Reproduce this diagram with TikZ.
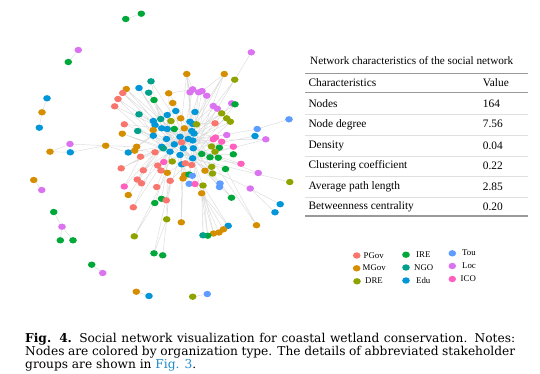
\documentclass[tikz,border=0pt]{standalone}
\usepackage{fontspec}
\setmainfont{Liberation Serif}
\newfontfamily\capfont{DejaVu Serif}
\usetikzlibrary{shapes.geometric,backgrounds}
\definecolor{cPGov}{HTML}{F8766D}
\definecolor{cMGov}{HTML}{D58E00}
\definecolor{cDRE}{HTML}{8FA300}
\definecolor{cIRE}{HTML}{00A83A}
\definecolor{cNGO}{HTML}{00A08A}
\definecolor{cEdu}{HTML}{0096D8}
\definecolor{cTou}{HTML}{5E9CFF}
\definecolor{cLoc}{HTML}{DB72F0}
\definecolor{cICO}{HTML}{FF5FBE}
\definecolor{figblue}{HTML}{1E8AC8}
\begin{document}
\begin{tikzpicture}[x=1pt,y=-1pt]
\tikzset{
    dot/.style={ellipse, minimum width=7.6pt, minimum height=6.4pt, inner sep=0pt, draw=none},
    pgov/.style={dot, fill=cPGov},
    mgov/.style={dot, fill=cMGov},
    dre/.style={dot, fill=cDRE},
    ire/.style={dot, fill=cIRE},
    ngo/.style={dot, fill=cNGO},
    edu/.style={dot, fill=cEdu},
    tou/.style={dot, fill=cTou},
    loc/.style={dot, fill=cLoc},
    ico/.style={dot, fill=cICO},
    edge/.style={gray!28, line width=0.45pt},
    cell/.style={anchor=west, inner sep=0pt, font=\fontsize{11.4}{13}\selectfont},
    key/.style={anchor=west, inner sep=0pt, font=\fontsize{8.8}{10}\selectfont},
    toprule/.style={gray!80, line width=1.1pt},
    midrule/.style={gray!25, line width=0.5pt}}
\def\tabL{305}
\def\tabR{528.3}

\useasboundingbox (0,0) rectangle (540,373);

% outer components
\node[ire] (v1) at (125.7,19) {};
\node[ire] (v2) at (141.3,13.7) {};
\node[loc] (v3) at (78.3,50) {};
\node[ire] (v4) at (68.3,62) {};
\node[edu] (v5) at (47,98.3) {};
\node[mgov] (v6) at (42,112.3) {};
\node[edu] (v7) at (39.3,127.7) {};
\node[loc] (v8) at (70,144) {};
\node[mgov] (v9) at (50,151.7) {};
\node[edu] (v10) at (70.3,152.3) {};
\node[mgov] (v11) at (105.7,145.7) {};
\node[mgov] (v12) at (33.7,180) {};
\node[loc] (v13) at (41.7,190) {};
\node[ire] (v14) at (53.7,212) {};
\node[loc] (v15) at (62,226.7) {};
\node[ire] (v16) at (60.3,240.3) {};
\node[ire] (v17) at (73,240.3) {};
\node[ire] (v18) at (91.7,264.7) {};
\node[loc] (v19) at (102.7,273) {};
\node[mgov] (v20) at (136.3,291.7) {};
\node[edu] (v21) at (149,296) {};
\node[dre] (v22) at (192.7,296.7) {};
\node[tou] (v23) at (207.3,294) {};

% main component, top
\node[mgov] (v24) at (126.3,89) {};
\node[pgov] (v25) at (122.7,93) {};
\node[pgov] (v26) at (118,99) {};
\node[pgov] (v27) at (114.7,106.3) {};
\node[edu] (v28) at (139,88) {};
\node[ngo] (v29) at (151,81.3) {};
\node[ngo] (v30) at (148.7,92.7) {};
\node[ire] (v31) at (154,100) {};
\node[mgov] (v32) at (168.7,93.3) {};
\node[mgov] (v33) at (172.7,103) {};
\node[loc] (v34) at (192.7,89.3) {};
\node[loc] (v35) at (190,92.3) {};
\node[loc] (v36) at (198.7,92.3) {};
\node[loc] (v37) at (202,91) {};
\node[loc] (v38) at (206.7,95.7) {};
\node[mgov] (v39) at (186.7,74) {};
\node[mgov] (v40) at (224.3,74) {};
\node[dre] (v41) at (234.7,79.7) {};
\node[loc] (v42) at (251.3,52.3) {};
\node[loc] (v43) at (213.3,106) {};
\node[loc] (v44) at (217.3,108.7) {};
\node[loc] (v45) at (231.7,103.3) {};
\node[ire] (v46) at (235,104.3) {};
\node[dre] (v47) at (221.7,113.3) {};
\node[dre] (v48) at (226.7,118.3) {};
\node[dre] (v49) at (230.3,121.7) {};
\node[ngo] (v50) at (139,114.3) {};
\node[edu] (v51) at (175.7,111) {};
\node[edu] (v52) at (195,112) {};
\node[edu] (v53) at (167.3,115) {};
\node[pgov] (v54) at (124.3,124.3) {};
\node[mgov] (v55) at (122.3,133.7) {};
\node[ngo] (v56) at (137.7,131) {};

% main component, core
\node[edu] (v57) at (153.3,121) {};
\node[edu] (v58) at (155,125) {};
\node[ngo] (v59) at (160.7,119) {};
\node[dre] (v60) at (171,121) {};
\node[mgov] (v61) at (180.7,118.3) {};
\node[edu] (v62) at (190,121.7) {};
\node[edu] (v63) at (192.7,124) {};
\node[dre] (v64) at (196.5,124.3) {};
\node[mgov] (v65) at (153.3,130) {};
\node[edu] (v66) at (153.3,135.7) {};
\node[edu] (v67) at (161.7,128.3) {};
\node[edu] (v68) at (167.3,129) {};
\node[ire] (v69) at (174.3,129) {};
\node[mgov] (v70) at (184.3,128.3) {};
\node[edu] (v71) at (191.7,131) {};
\node[edu] (v72) at (194,133.5) {};
\node[edu] (v73) at (180,136.7) {};
\node[edu] (v74) at (188.3,139) {};
\node[edu] (v75) at (192.7,140.5) {};
\node[pgov] (v76) at (181.7,142.3) {};
\node[edu] (v77) at (174.3,144.3) {};
\node[edu] (v78) at (161.7,146.7) {};
\node[ngo] (v79) at (163.3,148.3) {};
\node[edu] (v80) at (170,151.7) {};
\node[edu] (v81) at (183.3,148.3) {};
\node[edu] (v82) at (193.3,148.3) {};
\node[pgov] (v83) at (155,152.3) {};
\node[ire] (v84) at (201.7,154) {};
\node[edu] (v85) at (180,155) {};
\node[edu] (v86) at (192.7,158.3) {};
\node[ire] (v87) at (210,157.3) {};
\node[dre] (v88) at (172.3,161.5) {};
\node[pgov] (v89) at (191.7,165) {};
\node[edu] (v90) at (181.7,164.3) {};
\node[edu] (v160) at (166.5,139) {};
\node[pgov] (v91) at (215,123.3) {};
\node[ico] (v92) at (213.3,139.3) {};
\node[ico] (v93) at (215.5,137.5) {};
\node[loc] (v94) at (226.7,135) {};
\node[ico] (v95) at (221.7,141.7) {};
\node[ire] (v96) at (219.3,147.7) {};
\node[ire] (v97) at (218.3,157.7) {};
\node[ire] (v98) at (233.3,154.3) {};
\node[dre] (v99) at (215,151.7) {};
\node[dre] (v100) at (211.5,146.5) {};
\node[ico] (v101) at (233.3,146.7) {};
\node[ico] (v102) at (241,163.8) {};

% main component, lower left
\node[edu] (v103) at (128.3,152.5) {};
\node[mgov] (v104) at (136.7,146.7) {};
\node[mgov] (v105) at (134.7,150.7) {};
\node[pgov] (v106) at (140.5,156.7) {};
\node[ico] (v107) at (163.8,162) {};
\node[pgov] (v108) at (185.3,163.3) {};
\node[pgov] (v109) at (121.2,168.3) {};
\node[pgov] (v110) at (143.3,170.3) {};
\node[pgov] (v111) at (157.7,165.5) {};
\node[pgov] (v112) at (161,170.5) {};
\node[mgov] (v113) at (167.3,172.8) {};
\node[pgov] (v114) at (137.2,179.5) {};
\node[pgov] (v115) at (141.5,183.3) {};
\node[pgov] (v116) at (156.7,187) {};
\node[pgov] (v117) at (170.2,180.8) {};
\node[mgov] (v118) at (183,178.5) {};
\node[mgov] (v119) at (184.8,175) {};
\node[ire] (v120) at (189,174.5) {};
\node[tou] (v121) at (192.3,175.7) {};
\node[tou] (v122) at (189.2,183.8) {};
\node[ico] (v123) at (195,184) {};
\node[dre] (v124) at (203,185.5) {};
\node[mgov] (v125) at (205,170.7) {};
\node[dre] (v126) at (211.7,166.8) {};
\node[dre] (v127) at (212.5,173.5) {};
\node[ire] (v128) at (225.5,169) {};
\node[ico] (v129) at (124.3,186.5) {};
\node[mgov] (v130) at (128.3,195) {};
\node[ire] (v131) at (161.5,198.8) {};
\node[ire] (v132) at (154.8,203) {};
\node[pgov] (v133) at (166.3,200.3) {};
\node[mgov] (v134) at (201.7,193.3) {};
\node[tou] (v135) at (220,183.5) {};
\node[tou] (v159) at (219.5,187) {};
\node[pgov] (v136) at (133.3,207.3) {};

% main component, right and bottom
\node[tou] (v137) at (289,119.3) {};
\node[tou] (v138) at (257.2,129) {};
\node[edu] (v139) at (255,136) {};
\node[loc] (v140) at (265.8,139.3) {};
\node[dre] (v141) at (289.8,182) {};
\node[loc] (v142) at (258.2,173) {};
\node[loc] (v143) at (250.2,188.5) {};
\node[edu] (v144) at (280.2,204.2) {};
\node[edu] (v145) at (275,212.3) {};
\node[mgov] (v146) at (256.5,225.2) {};
\node[ire] (v147) at (231.5,197.7) {};
\node[edu] (v148) at (228.2,225.8) {};
\node[mgov] (v149) at (223.5,229.3) {};
\node[mgov] (v150) at (219,232.5) {};
\node[mgov] (v151) at (213.5,233.5) {};
\node[ire] (v152) at (207.7,235.7) {};
\node[ngo] (v153) at (203,235.3) {};
\node[mgov] (v154) at (181.3,222.3) {};
\node[dre] (v155) at (166.7,219.3) {};
\node[ire] (v156) at (154,253.3) {};
\node[ire] (v157) at (162.7,255.3) {};
\node[dre] (v158) at (134.3,236.3) {};

% ties
\begin{scope}[on background layer]
\draw[edge] (v1)--(v2) (v3)--(v4) (v5)--(v6) (v6)--(v7) (v8)--(v9) (v9)--(v10) (v8)--(v11) (v10)--(v11);
\draw[edge] (v11)--(v104) (v11)--(v103) (v12)--(v13) (v14)--(v15) (v15)--(v16) (v15)--(v17);
\draw[edge] (v18)--(v19) (v20)--(v21) (v22)--(v23);
\draw[edge] (v24)--(v67) (v24)--(v73) (v25)--(v68) (v25)--(v77) (v26)--(v67) (v26)--(v80) (v27)--(v78) (v27)--(v73);
\draw[edge] (v28)--(v68) (v28)--(v85) (v29)--(v74) (v29)--(v67) (v30)--(v73) (v30)--(v77) (v31)--(v68) (v31)--(v81);
\draw[edge] (v32)--(v34) (v32)--(v71) (v32)--(v80) (v33)--(v74) (v33)--(v78);
\draw[edge] (v39)--(v34) (v39)--(v35) (v39)--(v71) (v39)--(v73) (v39)--(v63);
\draw[edge] (v40)--(v37) (v40)--(v74) (v40)--(v86) (v40)--(v63) (v41)--(v42) (v41)--(v72) (v41)--(v82);
\draw[edge] (v34)--(v85) (v35)--(v74) (v36)--(v81) (v36)--(v75) (v37)--(v72) (v38)--(v86) (v38)--(v71);
\draw[edge] (v43)--(v63) (v44)--(v75) (v45)--(v82) (v46)--(v72) (v46)--(v86) (v47)--(v71) (v48)--(v81) (v49)--(v86) (v49)--(v75);
\draw[edge] (v50)--(v67) (v50)--(v78) (v51)--(v73) (v52)--(v74) (v53)--(v68) (v54)--(v77) (v54)--(v67);
\draw[edge] (v55)--(v78) (v55)--(v80) (v56)--(v66) (v56)--(v85);
\draw[edge] (v57)--(v67) (v58)--(v68) (v59)--(v73) (v60)--(v74) (v61)--(v71) (v62)--(v77) (v63)--(v80) (v64)--(v81);
\draw[edge] (v65)--(v85) (v66)--(v86) (v67)--(v73) (v68)--(v74) (v69)--(v71) (v70)--(v77) (v71)--(v80) (v72)--(v81);
\draw[edge] (v73)--(v85) (v74)--(v86) (v75)--(v78) (v76)--(v67) (v77)--(v68) (v78)--(v73) (v79)--(v74) (v80)--(v71);
\draw[edge] (v81)--(v63) (v82)--(v68) (v83)--(v77) (v84)--(v73) (v85)--(v74) (v86)--(v67) (v87)--(v71) (v88)--(v80);
\draw[edge] (v89)--(v81) (v90)--(v85) (v57)--(v81) (v62)--(v85) (v66)--(v74) (v67)--(v86) (v68)--(v81) (v73)--(v80);
\draw[edge] (v77)--(v86) (v78)--(v85) (v63)--(v74) (v71)--(v77) (v72)--(v78) (v160)--(v74) (v160)--(v63);
\draw[edge] (v91)--(v74) (v91)--(v63) (v92)--(v81) (v93)--(v71) (v94)--(v74) (v95)--(v86) (v96)--(v75) (v97)--(v82);
\draw[edge] (v98)--(v85) (v99)--(v81) (v100)--(v72) (v101)--(v86) (v101)--(v75) (v102)--(v82) (v102)--(v85);
\draw[edge] (v103)--(v78) (v103)--(v67) (v104)--(v66) (v105)--(v80) (v106)--(v77) (v107)--(v85) (v108)--(v86);
\draw[edge] (v109)--(v78) (v109)--(v83) (v110)--(v80) (v111)--(v77) (v112)--(v85) (v113)--(v90) (v114)--(v83) (v114)--(v78);
\draw[edge] (v115)--(v80) (v116)--(v77) (v117)--(v86) (v118)--(v85) (v119)--(v90) (v120)--(v86) (v121)--(v81) (v122)--(v85);
\draw[edge] (v123)--(v82) (v124)--(v86) (v125)--(v74) (v126)--(v75) (v127)--(v82) (v128)--(v86) (v129)--(v83) (v129)--(v106);
\draw[edge] (v130)--(v78) (v131)--(v80) (v132)--(v77) (v133)--(v85) (v134)--(v86) (v134)--(v90) (v135)--(v81) (v136)--(v78);
\draw[edge] (v136)--(v80) (v159)--(v86);
\draw[edge] (v137)--(v138) (v138)--(v75) (v139)--(v82) (v140)--(v86) (v140)--(v75) (v141)--(v86) (v142)--(v82) (v143)--(v85);
\draw[edge] (v144)--(v143) (v145)--(v143) (v146)--(v128) (v146)--(v87) (v147)--(v86) (v147)--(v82);
\draw[edge] (v148)--(v134) (v149)--(v134) (v150)--(v134) (v151)--(v134) (v152)--(v134) (v153)--(v134);
\draw[edge] (v148)--(v124) (v151)--(v124) (v152)--(v124) (v153)--(v124);
\draw[edge] (v154)--(v118) (v154)--(v90) (v155)--(v117) (v155)--(v156) (v155)--(v157) (v155)--(v113);
\draw[edge] (v156)--(v117) (v158)--(v132) (v158)--(v113);
\end{scope}

% table
\node[cell, font=\fontsize{11.2}{13}\selectfont] (title) at (310,60.7) {Network characteristics of the social network};
\draw[toprule] (\tabL,73.3) -- (\tabR,73.3);
\node[cell] (hdrA) at (308.3,82.7) {Characteristics};
\node[cell] (hdrB) at (482.7,82.7) {Value};
\draw[toprule] (\tabL,92.3) -- (\tabR,92.3);
\node[cell] (rowA) at (308.3,103.3) {Nodes};
\node[cell] (valA) at (482.7,103.3) {164};
\draw[midrule] (\tabL,113.8) -- (\tabR,113.8);
\node[cell] (rowB) at (308.3,124.3) {Node degree};
\node[cell] (valB) at (482.7,124.3) {7.56};
\draw[midrule] (\tabL,134.9) -- (\tabR,134.9);
\node[cell] (rowC) at (308.3,145.5) {Density};
\node[cell] (valC) at (482.7,145.5) {0.04};
\draw[midrule] (\tabL,155.8) -- (\tabR,155.8);
\node[cell] (rowD) at (308.3,166) {Clustering coefficient};
\node[cell] (valD) at (482.7,166) {0.22};
\draw[midrule] (\tabL,176.4) -- (\tabR,176.4);
\node[cell] (rowE) at (308.3,186.7) {Average path length};
\node[cell] (valE) at (482.7,186.7) {2.85};
\draw[midrule] (\tabL,196.8) -- (\tabR,196.8);
\node[cell] (rowF) at (308.3,206.7) {Betweenness centrality};
\node[cell] (valF) at (482.7,206.7) {0.20};
\draw[toprule] (\tabL,216) -- (\tabR,216);

% legend
\node[pgov] (lgP) at (356.7,255.5) {};
\node[key] (lgPt) at (363.5,255.3) {PGov};
\node[mgov] (lgM) at (356.7,268.3) {};
\node[key] (lgMt) at (362.5,268.1) {MGov};
\node[dre] (lgD) at (357,281.3) {};
\node[key] (lgDt) at (365,281.1) {DRE};
\node[ire] (lgI) at (406,254.7) {};
\node[key] (lgIt) at (416,254.5) {IRE};
\node[ngo] (lgN) at (406,267.5) {};
\node[key] (lgNt) at (414,267.3) {NGO};
\node[edu] (lgE) at (406,280.5) {};
\node[key] (lgEt) at (416,280.3) {Edu};
\node[tou] (lgT) at (452.3,253.3) {};
\node[key] (lgTt) at (462,253.1) {Tou};
\node[loc] (lgL) at (452.3,266) {};
\node[key] (lgLt) at (462,265.8) {Loc};
\node[ico] (lgC) at (452.3,279) {};
\node[key] (lgCt) at (460.5,278.8) {ICO};

% caption
\node[anchor=north west, inner sep=0pt, text width=490pt, align=justify,
      font=\capfont\fontsize{12.2}{12.9}\selectfont] (caption) at (25,333)
  {\textbf{Fig. 4.} Social network visualization for coastal wetland conservation. Notes:\linebreak Nodes are colored by organization type. The details of abbreviated stakeholder\linebreak groups are shown in \textcolor{figblue}{Fig. 3}.};
\end{tikzpicture}
\end{document}
